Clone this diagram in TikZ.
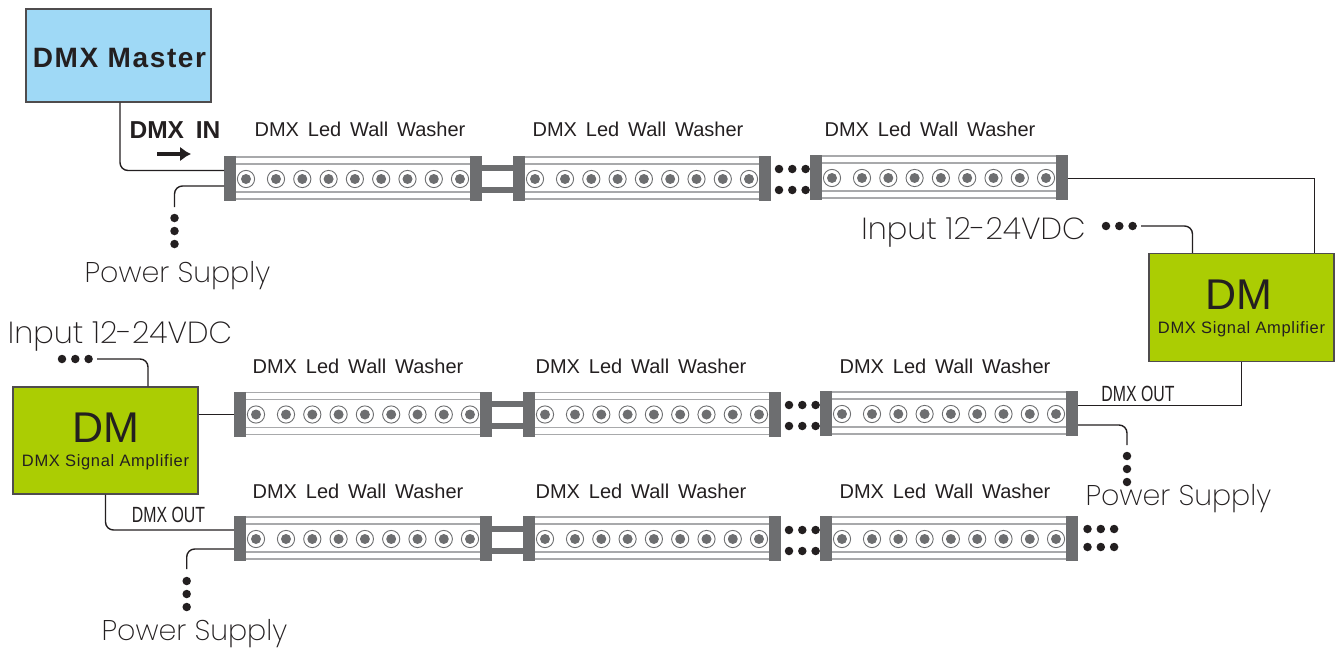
\documentclass[tikz,border=0pt]{standalone}
\usepackage{fontspec}
\setmainfont{Liberation Sans}
\newfontfamily\lightfont[UprightFont=* ExtraLight]{Poppins}
\newfontfamily\washerfont[WordSpace=1.6]{Liberation Sans}
\newfontfamily\outfont[FakeStretch=0.72]{Liberation Sans}
\usepackage{xcolor}
\usetikzlibrary{arrows.meta}
\definecolor{capgray}{HTML}{6D6E70}
\definecolor{railgray}{HTML}{A8A9AB}
\definecolor{wire}{HTML}{231F20}
\definecolor{masterblue}{HTML}{9FD9F6}
\definecolor{ampgreen}{HTML}{ABCD03}
\tikzset{
  endcap/.style={fill=capgray,draw=none,minimum width=12pt,minimum height=45pt,inner sep=0pt},
  link/.style={draw,color=wire,line width=1.4pt,rounded corners=8pt},
  sharp/.style={draw,color=wire,line width=1.6pt},
  blob/.style={circle,fill=wire,minimum size=8.5pt,inner sep=0pt},
  ampbox/.style={draw=wire!80,line width=1.2pt,fill=ampgreen,minimum width=185pt,inner sep=0pt},
  txt/.style={inner sep=0pt,text=wire,anchor=base},
}
% one washer: name, x of left cap centre, y of middle
\newcommand{\washer}[3]{
  \draw [railgray,line width=1.2pt] (#2,#3-21.5) -- (#2+246,#3-21.5);
  \draw [railgray,line width=1.2pt] (#2,#3-14.5) -- (#2+246,#3-14.5);
  \draw [railgray,line width=1.2pt] (#2,#3+13.5) -- (#2+246,#3+13.5);
  \draw [railgray,line width=1.2pt] (#2,#3+20.5) -- (#2+246,#3+20.5);
  \foreach \i in {16,46,72.3,98.6,124.9,151.2,177.5,203.8,230} {
    \draw [capgray,line width=0.9pt] (#2+\i,#3+0.5) circle (8.6);
    \fill [capgray] (#2+\i,#3+0.5) circle (5);
  }
  \node [endcap] (#1l) at (#2,#3) {};
  \node [endcap] (#1r) at (#2+246,#3) {};
}
% three blobs in a row, name prefix, start x, y
\newcommand{\blobsh}[3]{
  \node [blob] (#1a) at (#2,#3) {};
  \node [blob] (#1b) at (#2+13.3,#3) {};
  \node [blob] (#1c) at (#2+26.6,#3) {};
}
\newcommand{\blobsv}[3]{
  \node [blob] (#1a) at (#2,#3) {};
  \node [blob] (#1b) at (#2,#3+13) {};
  \node [blob] (#1c) at (#2,#3+26) {};
}
\begin{document}
\begin{tikzpicture}[x=1pt,y=-1pt]
\useasboundingbox (0,0) rectangle (1339,653);

% top row
\washer{aa}{230}{178.5}
\washer{ab}{519}{178.5}
\washer{ac}{816}{177.5}
\fill [capgray] (482,165) rectangle (513,171);
\fill [capgray] (482,187) rectangle (513,193);
\blobsh{ga}{779}{169}
\blobsh{gb}{779}{190}

% second row
\washer{ba}{240}{414}
\washer{bb}{529}{414}
\washer{bc}{826}{413.5}
\fill [capgray] (492,401) rectangle (523,407);
\fill [capgray] (492,423) rectangle (523,429);
\blobsh{gc}{789}{405}
\blobsh{gd}{789}{426}

% third row
\washer{ca}{240}{538.5}
\washer{cb}{529}{538.5}
\washer{cc}{826}{538.5}
\fill [capgray] (492,526) rectangle (523,532);
\fill [capgray] (492,548) rectangle (523,554);
\blobsh{ge}{789}{530}
\blobsh{gf}{789}{551}
\blobsh{gg}{1087.5}{529}
\blobsh{gh}{1087.5}{547}

% boxes
\node [draw=wire!80,line width=1.2pt,fill=masterblue,minimum width=185pt,minimum height=93pt,inner sep=0pt] (master) at (118.5,55.5) {};
\node [txt] (mastertxt) at (119.5,67) {\fontsize{28}{28}\bfseries\addfontfeatures{LetterSpace=5.8} DMX Master};
\node [ampbox,minimum height=108pt] (ampr) at (1241.5,307.5) {};
\node [ampbox,minimum height=107pt] (ampl) at (105.5,440.5) {};
\node [txt] (amprdm) at (1239,309) {\fontsize{43}{43}\selectfont DM};
\node [txt] (ampldm) at (106,442) {\fontsize{43}{43}\selectfont DM};
\node [txt] (amprtxt) at (1241.5,333) {\fontsize{16.5}{17}\selectfont\addfontfeatures{LetterSpace=4} DMX Signal Amplifier};
\node [txt] (ampltxt) at (105.5,466) {\fontsize{16.5}{17}\selectfont\addfontfeatures{LetterSpace=4} DMX Signal Amplifier};

% wires
\coordinate (pa) at (174.5,207);
\coordinate (pb) at (1127,445);
\coordinate (pc) at (186.7,569);
\coordinate (ina) at (1141,226);
\coordinate (inb) at (97,359);
\path [link] (master.south -| 120,0) |- (224,170.5);
\path [link] (224,186) -| (pa);
\path [sharp] (1068,178.5) -| (ampr.north -| 1314.5,0);
\path [link] (ina) -| (ampr.north -| 1192.5,0);
\path [sharp] (ampr.south) |- (bcr.east |- 0,405.5);
\path [link] (1078,425) -| (pb);
\path [link] (inb) -| (ampl.north -| 148,0);
\path [sharp] (ampl.east |- 0,414.5) -- (bal.west |- 0,414.5);
\path [link] (ampl.south) |- (cal.west |- 0,530);
\path [link] (cal.west |- 0,549) -| (pc);

\blobsv{pwa}{174.5}{218}
\blobsv{pwb}{1127}{456}
\blobsv{pwc}{186.7}{581}
\blobsh{ia}{1106}{226}
\blobsh{ib}{62}{359}

% labels
\foreach \n/\x/\y in {la/360/136.5,lb/638/136.5,lc/930/136.5,ld/358/373,le/641/373,lf/945/373,lg/358/498,lh/641/498,li/945/498}
  \node [txt] (\n) at (\x,\y) {\fontsize{20}{20}\washerfont DMX Led Wall Washer};
\node [txt] (dmxin) at (175,138) {\fontsize{24.5}{24}\bfseries DMX\hspace{5pt} IN};
\coordinate (arra) at (157,154);
\coordinate (arrb) at (191,154);
\draw [wire,line width=3.2pt,-{Latex[length=11pt,width=15pt]}] (arra) -- (arrb);
\node [txt] (outa) at (1138,401) {\fontsize{22}{22}\outfont DMX OUT};
\node [txt] (outb) at (168.5,522) {\fontsize{22}{22}\outfont DMX OUT};
\node [txt] (pwat) at (177.5,282) {\fontsize{28.5}{28}\lightfont Power Supply};
\node [txt] (pwbt) at (1178.5,505.5) {\fontsize{28.5}{28}\lightfont Power Supply};
\node [txt] (pwct) at (194.5,640) {\fontsize{28.5}{28}\lightfont Power Supply};
\node [txt] (inat) at (973.5,239) {\fontsize{30.5}{30}\lightfont Input 12-24VDC};
\node [txt] (inbt) at (120,343) {\fontsize{30.5}{30}\lightfont Input 12-24VDC};
\end{tikzpicture}
\end{document}
